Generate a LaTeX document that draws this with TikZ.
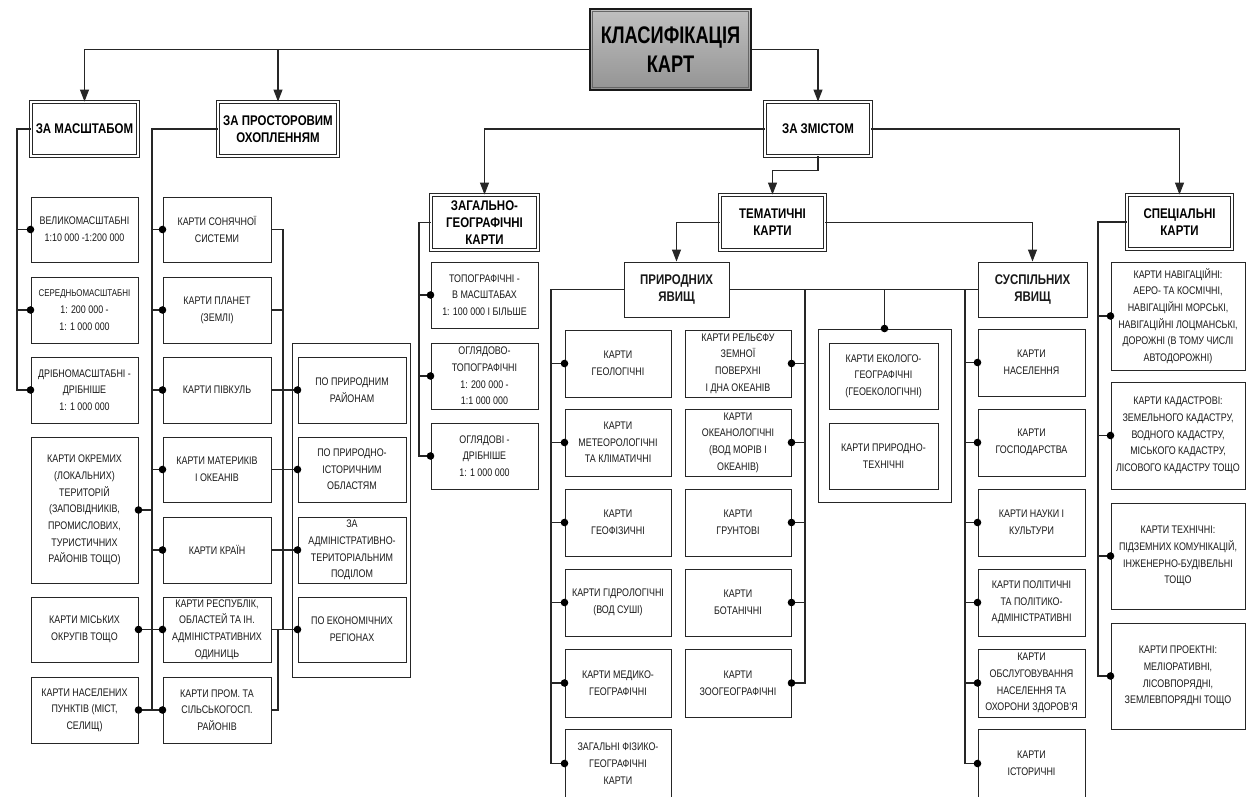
\documentclass[tikz,border=0pt]{standalone}
\usepackage{fontspec}
\setmainfont{Liberation Sans}[FakeStretch=0.81]
\newfontfamily\hdrfont{Liberation Sans}[FakeStretch=0.82]
\newfontfamily\ttlfont{Liberation Sans}[FakeStretch=0.76]
\usetikzlibrary{arrows.meta,calc}

\tikzset{
  x=1pt, y=-1pt,
  ln/.style={draw=black!85, line width=1.1pt},
  arr/.style={ln, -{Triangle[length=12pt,width=9pt]}},
  leaf/.style={draw=black!85, line width=1pt, fill=white, align=center,
    inner sep=0pt, text=black!90, font=\fontsize{11}{16.7}\selectfont},
  head/.style={draw=black!85, line width=0.9pt, double=white,
    double distance=1.8pt, fill=white, align=center, inner sep=0pt,
    font=\hdrfont\bfseries\fontsize{14}{17}\selectfont},
  framebox/.style={draw=black!85, line width=1pt, inner sep=0pt},
  titlebox/.style={draw=black!90, line width=1.2pt, inner sep=0pt, align=center,
    top color=black!25, middle color=black!52, bottom color=black!42,
    font=\ttlfont\bfseries\fontsize{24}{29}\selectfont},
}
% box given by its left, top, right and bottom edges
\newcommand\bx[7][leaf]{%
  \node[#1, minimum width={#5-#3}, minimum height={#6-#4}]
    (#2) at ({(#3+#5)/2},{(#4+#6)/2}) {#7};}
\newcommand\jdot[1]{\fill[black] (#1) circle (3.8pt);}

\begin{document}
\begin{tikzpicture}
\useasboundingbox (0,0) rectangle (1248,796);
\fill[white] (0,0) rectangle (1248,796);

% ---------- top levels ----------
\bx[titlebox]{title}{590}{9}{751}{90}{КЛАСИФІКАЦІЯ\\КАРТ}
\draw[black!60, line width=0.6pt] ($(title.north west)+(3,3)$) rectangle ($(title.south east)+(-3,-3)$);

\bx[head]{masht}{31}{102}{138}{156}{ЗА МАСШТАБОМ}
\bx[head]{prost}{218}{102}{338}{156}{ЗА ПРОСТОРОВИМ\\ОХОПЛЕННЯМ}
\bx[head]{zmist}{765}{102}{871}{156}{ЗА ЗМІСТОМ}
\bx[head]{zag}{431}{195}{538}{250}{ЗАГАЛЬНО-\\ГЕОГРАФІЧНІ\\КАРТИ}
\bx[head]{temat}{720}{195}{825}{250}{ТЕМАТИЧНІ\\КАРТИ}
\bx[head]{spec}{1127}{195}{1232}{249}{СПЕЦІАЛЬНІ\\КАРТИ}
\bx[leaf,font=\hdrfont\bfseries\fontsize{14}{17}\selectfont]{pryr}{624}{262}{729}{317}{ПРИРОДНИХ\\ЯВИЩ}
\bx[leaf,font=\hdrfont\bfseries\fontsize{14}{17}\selectfont]{susp}{978}{262}{1087}{317}{СУСПІЛЬНИХ\\ЯВИЩ}

% ---------- by scale ----------
\bx{velyko}{31}{197}{138}{262}{ВЕЛИКОМАСШТАБНІ\\1:10 000 -1:200 000}
\bx{seredn}{31}{277}{138}{343}{{\fontsize{9.8}{16.7}\selectfont СЕРЕДНЬОМАСШТАБНІ}\\1: 200 000 -\\1: 1 000 000}
\bx{dribno}{31}{357}{138}{423}{ДРІБНОМАСШТАБНІ -\\ДРІБНІШЕ\\1: 1 000 000}
\bx{okrem}{31}{437}{138}{583}{КАРТИ ОКРЕМИХ\\(ЛОКАЛЬНИХ)\\ТЕРИТОРІЙ\\(ЗАПОВІДНИКІВ,\\ПРОМИСЛОВИХ,\\ТУРИСТИЧНИХ\\РАЙОНІВ ТОЩО)}
\bx{misk}{31}{597}{138}{662}{КАРТИ МІСЬКИХ\\ОКРУГІВ ТОЩО}
\bx{nasel}{31}{677}{138}{743}{КАРТИ НАСЕЛЕНИХ\\ПУНКТІВ (МІСТ,\\СЕЛИЩ)}

% ---------- by coverage ----------
\bx{son}{163}{197}{271}{262}{КАРТИ СОНЯЧНОЇ\\СИСТЕМИ}
\bx{plan}{163}{277}{271}{343}{КАРТИ ПЛАНЕТ\\(ЗЕМЛІ)}
\bx{pivk}{163}{357}{271}{423}{КАРТИ ПІВКУЛЬ}
\bx{mat}{163}{437}{271}{502}{КАРТИ МАТЕРИКІВ\\І ОКЕАНІВ}
\bx{kr}{163}{517}{271}{583}{КАРТИ КРАЇН}
\bx{resp}{163}{597}{271}{662}{КАРТИ РЕСПУБЛІК,\\ОБЛАСТЕЙ ТА ІН.\\АДМІНІСТРАТИВНИХ\\ОДИНИЦЬ}
\bx{prom}{163}{677}{271}{743}{КАРТИ ПРОМ. ТА\\СІЛЬСЬКОГОСП.\\РАЙОНІВ}

\bx[framebox]{regs}{292}{343}{410}{677}{}
\bx{rn1}{298}{357}{406}{423}{ПО ПРИРОДНИМ\\РАЙОНАМ}
\bx{rn2}{298}{437}{406}{502}{ПО ПРИРОДНО-\\ІСТОРИЧНИМ\\ОБЛАСТЯМ}
\bx{rn3}{298}{517}{406}{583}{ЗА\\АДМІНІСТРАТИВНО-\\ТЕРИТОРІАЛЬНИМ\\ПОДІЛОМ}
\bx{rn4}{298}{597}{406}{662}{ПО ЕКОНОМІЧНИХ\\РЕГІОНАХ}

% ---------- general geographic ----------
\bx{topo}{431}{262}{538}{328}{ТОПОГРАФІЧНІ -\\В МАСШТАБАХ\\1: 100 000 І БІЛЬШЕ}
\bx{ogltopo}{431}{343}{538}{409}{ОГЛЯДОВО-\\ТОПОГРАФІЧНІ\\1: 200 000 -\\1:1 000 000}
\bx{ogl}{431}{423}{538}{489}{ОГЛЯДОВІ -\\ДРІБНІШЕ\\1: 1 000 000}

% ---------- natural phenomena ----------
\bx{geol}{565}{330}{671}{397}{КАРТИ\\ГЕОЛОГІЧНІ}
\bx{meteo}{565}{409}{671}{476}{КАРТИ\\МЕТЕОРОЛОГІЧНІ\\ТА КЛІМАТИЧНІ}
\bx{geof}{565}{489}{671}{556}{КАРТИ\\ГЕОФІЗИЧНІ}
\bx{gidro}{565}{569}{671}{636}{КАРТИ ГІДРОЛОГІЧНІ\\(ВОД СУШІ)}
\bx{med}{565}{649}{671}{717}{КАРТИ МЕДИКО-\\ГЕОГРАФІЧНІ}
\bx{zfg}{565}{729}{671}{798}{ЗАГАЛЬНІ ФІЗИКО-\\ГЕОГРАФІЧНІ\\КАРТИ}

\bx{rel}{685}{330}{791}{397}{КАРТИ РЕЛЬЄФУ\\ЗЕМНОЇ\\ПОВЕРХНІ\\І ДНА ОКЕАНІВ}
\bx{okean}{685}{409}{791}{476}{КАРТИ\\ОКЕАНОЛОГІЧНІ\\(ВОД МОРІВ І\\ОКЕАНІВ)}
\bx{grunt}{685}{489}{791}{556}{КАРТИ\\ГРУНТОВІ}
\bx{bot}{685}{569}{791}{636}{КАРТИ\\БОТАНІЧНІ}
\bx{zoo}{685}{649}{791}{717}{КАРТИ\\ЗООГЕОГРАФІЧНІ}

\bx[framebox]{ecofr}{818}{329}{951}{502}{}
\bx{eco1}{829}{343}{938}{409}{КАРТИ ЕКОЛОГО-\\ГЕОГРАФІЧНІ\\(ГЕОЕКОЛОГІЧНІ)}
\bx{eco2}{829}{423}{938}{489}{КАРТИ ПРИРОДНО-\\ТЕХНІЧНІ}

% ---------- social phenomena ----------
\bx{nas}{978}{329}{1085}{396}{КАРТИ\\НАСЕЛЕННЯ}
\bx{gosp}{978}{409}{1085}{476}{КАРТИ\\ГОСПОДАРСТВА}
\bx{nauk}{978}{489}{1085}{556}{КАРТИ НАУКИ І\\КУЛЬТУРИ}
\bx{pol}{978}{569}{1085}{636}{КАРТИ ПОЛІТИЧНІ\\ТА ПОЛІТИКО-\\АДМІНІСТРАТИВНІ}
\bx{obsl}{978}{649}{1085}{717}{КАРТИ\\ОБСЛУГОВУВАННЯ\\НАСЕЛЕННЯ ТА\\ОХОРОНИ ЗДОРОВ'Я}
\bx{ist}{978}{729}{1085}{798}{КАРТИ\\ІСТОРИЧНІ}

% ---------- special ----------
\bx{nav}{1111}{262}{1245}{370}{КАРТИ НАВІГАЦІЙНІ:\\АЕРО- ТА КОСМІЧНІ,\\НАВІГАЦІЙНІ МОРСЬКІ,\\НАВІГАЦІЙНІ ЛОЦМАНСЬКІ,\\ДОРОЖНІ (В ТОМУ ЧИСЛІ\\АВТОДОРОЖНІ)}
\bx{kad}{1111}{382}{1245}{489}{КАРТИ КАДАСТРОВІ:\\ЗЕМЕЛЬНОГО КАДАСТРУ,\\ВОДНОГО КАДАСТРУ,\\МІСЬКОГО КАДАСТРУ,\\ЛІСОВОГО КАДАСТРУ ТОЩО}
\bx{tech}{1111}{503}{1245}{609}{КАРТИ ТЕХНІЧНІ:\\ПІДЗЕМНИХ КОМУНІКАЦІЙ,\\ІНЖЕНЕРНО-БУДІВЕЛЬНІ\\ТОЩО}
\bx{proekt}{1111}{623}{1245}{729}{КАРТИ ПРОЕКТНІ:\\МЕЛІОРАТИВНІ,\\ЛІСОВПОРЯДНІ,\\ЗЕМЛЕВПОРЯДНІ ТОЩО}

% ---------- arrows between levels ----------
\draw[arr] (title.west) -| (masht.north);
\draw[arr] (title.west -| prost.north) -- (prost.north);
\draw[arr] (title.east) -| (zmist.north);
\draw[arr] (zmist.west) -| (zag.north);
\draw[arr] (zmist.east) -| (spec.north);
\draw[arr] (zmist.south) -- ++(0,14) -| (temat.north);
\draw[arr] (temat.west) -| (pryr.north);
\draw[arr] (temat.east) -| (susp.north);

% ---------- bus lines ----------
\coordinate (bM) at (17,0);
\draw[ln] (masht.west) -| (bM |- dribno.west) -- (dribno.west);
\foreach \n in {velyko,seredn} {\draw[ln] (\n.west) -- (\n.west -| bM);}
\foreach \n in {velyko,seredn,dribno} {\jdot{\n.west}}

\coordinate (bP) at (152,0);
\draw[ln] (prost.west) -| (bP |- nasel.east);
\foreach \n in {son,plan,pivk,mat,kr} {\draw[ln] (\n.west) -- (\n.west -| bP);}
\draw[ln] (okrem.east) -- (okrem.east -| bP);
\draw[ln] (misk.east) -- (resp.west);
\draw[ln] (nasel.east) -- (prom.west);
\foreach \n in {son,plan,pivk,mat,kr,resp,prom} {\jdot{\n.west}}
\foreach \n in {okrem,misk,nasel} {\jdot{\n.east}}

\coordinate (bR) at (283,0);
\coordinate (bR2) at (278,0);
\draw[ln] (son.east) -| (bR |- resp.east);
\draw[ln] (plan.east) -- (plan.east -| bR);
\draw[ln] (pivk.east) -- (rn1.west);
\draw[ln] (mat.east) -- (rn2.west);
\draw[ln] (kr.east) -- (rn3.west);
\draw[ln] (resp.east) -- (rn4.west);
\draw[ln] (prom.east) -| (bR2 |- resp.east);
\foreach \n in {rn1,rn2,rn3,rn4} {\jdot{\n.west}}

\coordinate (bZ) at (419,0);
\draw[ln] (zag.west) -| (bZ |- ogl.west) -- (ogl.west);
\foreach \n in {topo,ogltopo} {\draw[ln] (\n.west) -- (\n.west -| bZ);}
\foreach \n in {topo,ogltopo,ogl} {\jdot{\n.west}}

\coordinate (bN1) at (551,0);
\coordinate (bN2) at (805,0);
\coordinate (bS) at (965,0);
\draw[ln] (pryr.west) -| (bN1 |- zfg.west) -- (zfg.west);
\foreach \n in {geol,meteo,geof,gidro,med} {\draw[ln] (\n.west) -- (\n.west -| bN1);}
\foreach \n in {geol,meteo,geof,gidro,med,zfg} {\jdot{\n.west}}
\draw[ln] (pryr.east) -- (susp.west);
\draw[ln] (bN2 |- pryr.east) |- (zoo.east);
\foreach \n in {rel,okean,grunt,bot} {\draw[ln] (\n.east) -- (\n.east -| bN2);}
\foreach \n in {rel,okean,grunt,bot,zoo} {\jdot{\n.east}}
\draw[ln] (ecofr.north) -- (ecofr.north |- pryr.east);
\jdot{ecofr.north}
\draw[ln] (bS |- susp.west) |- (ist.west);
\foreach \n in {nas,gosp,nauk,pol,obsl} {\draw[ln] (\n.west) -- (\n.west -| bS);}
\foreach \n in {nas,gosp,nauk,pol,obsl,ist} {\jdot{\n.west}}

\coordinate (bSp) at (1098,0);
\draw[ln] (spec.west) -| (bSp |- proekt.west) -- (proekt.west);
\foreach \n in {nav,kad,tech} {\draw[ln] (\n.west) -- (\n.west -| bSp);}
\foreach \n in {nav,kad,tech,proekt} {\jdot{\n.west}}
\end{tikzpicture}
\end{document}
